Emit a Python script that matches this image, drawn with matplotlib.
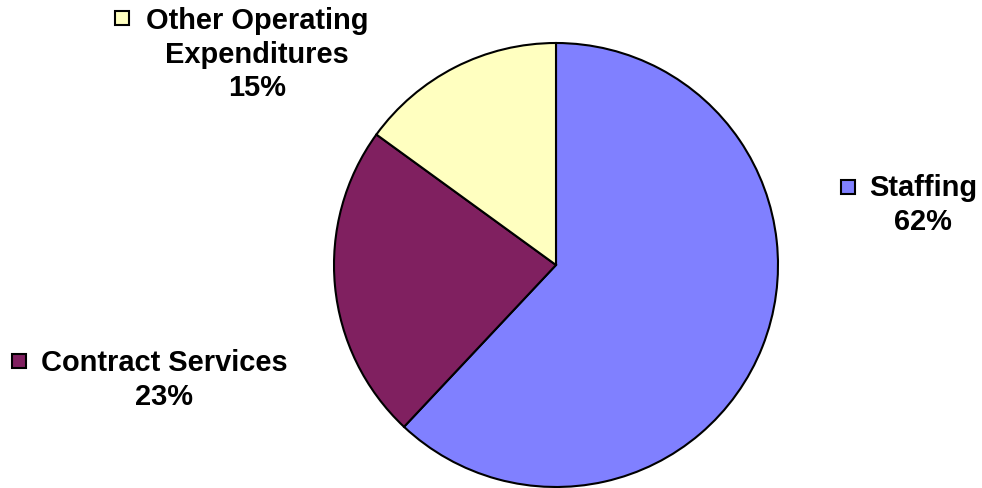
import matplotlib.pyplot as plt
from matplotlib.patches import Rectangle

# budget breakdown
categories = ["Staffing", "Contract Services", "Other Operating\nExpenditures"]
shares = [62, 23, 15]
colors = ["#8080FF", "#802060", "#FFFFC0"]

# label anchors in pixel space (x, y from top) and key square position
label_pos = [(923, 205), (164, 380), (257, 55)]
key_pos = [(848, 188), (19, 362), (122, 19)]

W, H = 982, 489
fig = plt.figure(figsize=(W / 100, H / 100), dpi=100)
ax = fig.add_axes([0, 0, 1, 1])

ax.pie(shares, colors=colors, startangle=90, counterclock=False,
       center=(556, H - 266), radius=222,
       wedgeprops=dict(edgecolor="black", linewidth=1.5))

ax.set_xlim(0, W)
ax.set_ylim(0, H)
ax.set_aspect("equal")
ax.axis("off")

font = dict(family=["Liberation Sans", "DejaVu Sans"], fontsize=20.9,
            fontweight="bold", color="black")

for name, val, col, (lx, ly), (kx, ky) in zip(categories, shares, colors,
                                               label_pos, key_pos):
    ax.text(lx, H - ly, "{}\n{}%".format(name, val), ha="center", va="center",
            linespacing=1.25, **font)
    s = 14
    ax.add_patch(Rectangle((kx - s / 2, H - ky - s / 2), s, s,
                           facecolor=col, edgecolor="black", linewidth=1.5))

fig.savefig("out.png", dpi=100)
